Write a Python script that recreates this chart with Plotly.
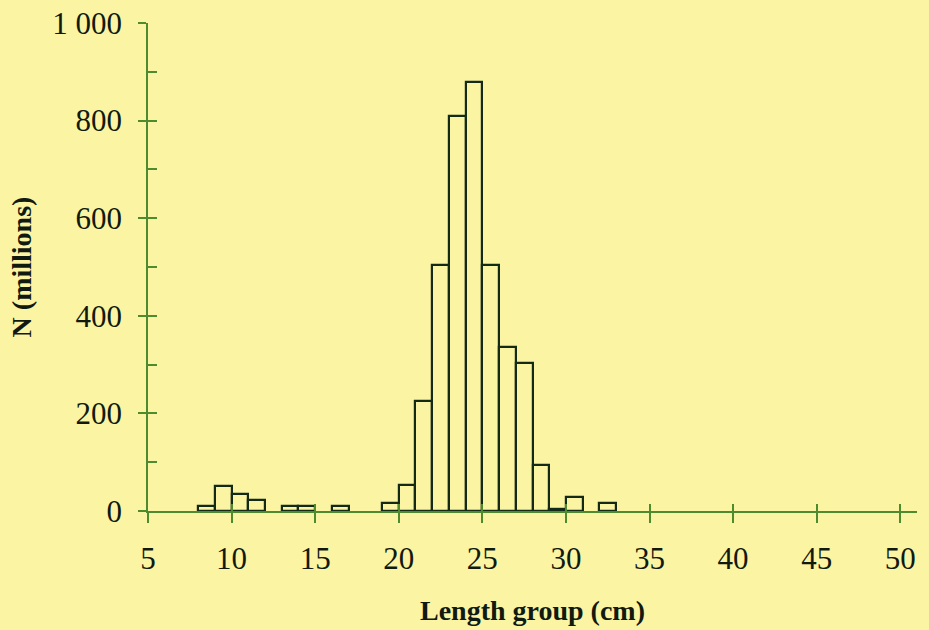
import plotly.graph_objects as go

# Length groups (bin centres, cm) and abundance (N, millions)
length_group = [8.5, 9.5, 10.5, 11.5, 13.5, 14.5, 16.5, 19.5, 20.5, 21.5,
                22.5, 23.5, 24.5, 25.5, 26.5, 27.5, 28.5, 29.5, 30.5, 32.5]
n_millions = [10, 51, 35, 22, 10, 10, 10, 17, 54, 225,
              505, 809, 880, 505, 337, 304, 94, 4, 29, 17]

x_title = "Length group (cm)"
y_title = "N (millions)"

BG = "#fbf4a3"
AXIS = "#4e8a2e"
BAR_LINE = "#142a18"
TXT = "#101a10"
FONT = "Liberation Serif, Times New Roman, serif"

fig = go.Figure()
fig.add_trace(go.Bar(
    x=length_group, y=n_millions, width=1,
    marker=dict(color=BG, line=dict(color=BAR_LINE, width=2.2)),
    showlegend=False, hoverinfo="x+y",
))

fig.update_layout(
    width=929, height=630,
    paper_bgcolor=BG, plot_bgcolor=BG,
    margin=dict(l=148, r=12, t=23, b=119),
    font=dict(family=FONT, color=TXT),
    separators=". ",
    bargap=0,
    xaxis=dict(
        range=[5, 51], tick0=5, dtick=5, ticks="outside", ticklen=10,
        tickwidth=1.5, tickcolor=AXIS, showline=True, linecolor=AXIS,
        linewidth=1.5, showgrid=False, zeroline=False, automargin=False,
        ticklabelstandoff=9,
        tickfont=dict(size=31, family=FONT, color=TXT),
        title=dict(text="<b>" + x_title + "</b>",
                   font=dict(size=28, family=FONT, color=TXT),
                   standoff=25),
    ),
    xaxis2=dict(
        overlaying="x", matches="x", anchor="y", side="bottom",
        range=[5, 51], tick0=5, dtick=5, ticks="inside", ticklen=7,
        tickwidth=1.5, tickcolor=AXIS, showticklabels=False,
        showline=False, showgrid=False, zeroline=False, automargin=False,
    ),
    yaxis=dict(
        range=[0, 1000], tick0=0, dtick=200, ticks="outside", ticklen=8,
        tickwidth=1.5, tickcolor=AXIS, showline=True, linecolor=AXIS,
        linewidth=1.5, showgrid=False, zeroline=False, automargin=False,
        separatethousands=True, ticklabelstandoff=10,
        tickfont=dict(size=31, family=FONT, color=TXT),
        title=dict(text="<b>" + y_title + "</b>",
                   font=dict(size=28, family=FONT, color=TXT),
                   standoff=12),
    ),
    yaxis2=dict(
        overlaying="y", matches="y", anchor="x", side="left",
        range=[0, 1000], tick0=0, dtick=100, ticks="inside", ticklen=9,
        tickwidth=1.5, tickcolor=AXIS, showticklabels=False,
        showline=False, showgrid=False, zeroline=False, automargin=False,
    ),
)

# invisible trace to activate overlay axes
fig.add_trace(go.Scatter(x=[None], y=[None], xaxis="x2", yaxis="y2",
                         showlegend=False, hoverinfo="skip"))

fig.write_html(
    "out.html",
    config={"displayModeBar": False},
    post_script="document.body.style.margin='0px';"
                "document.body.style.background='" + BG + "';",
)
